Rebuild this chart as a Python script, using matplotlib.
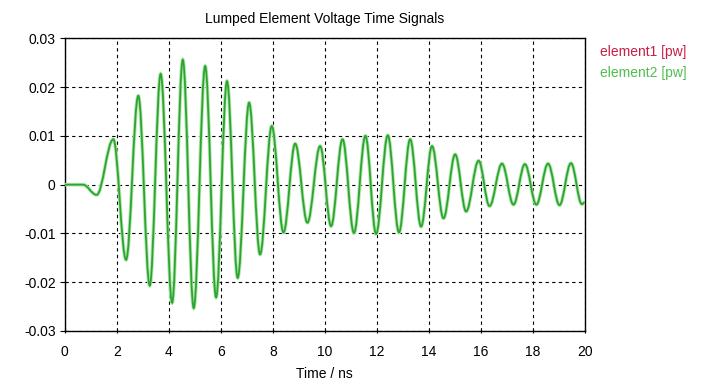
import matplotlib
matplotlib.use("Agg")
import matplotlib.pyplot as plt
from matplotlib.path import Path
from matplotlib.patches import PathPatch

# Extrema of the element2 voltage trace (time in ns, value)
times = [0, 0.7, 1.23, 1.87, 2.36, 2.83, 3.27, 3.69, 4.13, 4.54, 4.96, 5.40, 5.82,
         6.24, 6.65, 7.09, 7.51, 7.96, 8.41, 8.86, 9.33, 9.82, 10.24, 10.68, 11.12,
         11.56, 11.97, 12.42, 12.85, 13.28, 13.70, 14.12, 14.56, 15.01, 15.43, 15.91,
         16.33, 16.81, 17.25, 17.69, 18.13, 18.58, 19.02, 19.46, 19.88, 20.0]
values = [0, 0, -0.0021, 0.0093, -0.0154, 0.0182, -0.0207, 0.0227, -0.0242, 0.0256,
          -0.0253, 0.0243, -0.0231, 0.0212, -0.0191, 0.0168, -0.0143, 0.0120, -0.0098,
          0.0084, -0.0078, 0.0079, -0.0085, 0.0093, -0.0099, 0.0100, -0.0101, 0.0101,
          -0.0098, 0.0093, -0.0086, 0.0079, -0.0069, 0.0062, -0.0055, 0.0049, -0.0044,
          0.0043, -0.0041, 0.0042, -0.0041, 0.0043, -0.0042, 0.0044, -0.0040, -0.0036]

xticks = [0, 2, 4, 6, 8, 10, 12, 14, 16, 18, 20]
yticks = [-0.03, -0.02, -0.01, 0, 0.01, 0.02, 0.03]
ytick_labels = ["-0.03", "-0.02", "-0.01", "0", "0.01", "0.02", "0.03"]
legend_labels = ["element1 [pw]", "element2 [pw]"]
legend_colors = ["#c81e46", "#4fbf4f"]

plt.rcParams['font.family'] = ['Liberation Sans', 'DejaVu Sans']

fig = plt.figure(figsize=(7.25, 3.83), dpi=100)
ax = fig.add_axes([0.0892, 0.1358, 0.7177, 0.7642])

# smooth curve through extrema using cubic Bezier segments (horizontal tangents)
verts = [(times[0], values[0]), (times[1], values[1])]
codes = [Path.MOVETO, Path.LINETO]
k = 0.36
for i in range(1, len(times) - 1):
    t0, v0 = times[i], values[i]
    t1, v1 = times[i + 1], values[i + 1]
    d = t1 - t0
    verts += [(t0 + k * d, v0), (t1 - k * d, v1), (t1, v1)]
    codes += [Path.CURVE4] * 3
path = Path(verts, codes)
ax.add_patch(PathPatch(path, facecolor='none', edgecolor='#aee8ae', lw=2.6, zorder=3))
ax.add_patch(PathPatch(path, facecolor='none', edgecolor='#2fa32f', lw=1.3, zorder=4))

ax.set_xlim(0, 20)
ax.set_ylim(-0.03, 0.03)
ax.set_xticks(xticks)
ax.set_xticklabels([str(x) for x in xticks])
ax.set_yticks(yticks)
ax.set_yticklabels(ytick_labels)
ax.grid(True, color='black', linestyle=(0, (3, 3)), lw=0.8)
ax.tick_params(axis='both', labelsize=10, length=3.5, width=0.8, color='black')
ax.tick_params(axis='x', direction='inout', pad=8)
ax.tick_params(axis='y', direction='out', pad=3)
for s in ax.spines.values():
    s.set_linewidth(1.0)

ax.set_title("Lumped Element Voltage Time Signals", fontsize=10, pad=11)
ax.set_xlabel("Time / ns", fontsize=10, labelpad=6)

fig.text(600 / 725, 1 - 52 / 383, legend_labels[0], color=legend_colors[0],
         fontsize=10, va='center', ha='left')
fig.text(600 / 725, 1 - 73 / 383, legend_labels[1], color=legend_colors[1],
         fontsize=10, va='center', ha='left')

fig.savefig("out.png", dpi=100)
